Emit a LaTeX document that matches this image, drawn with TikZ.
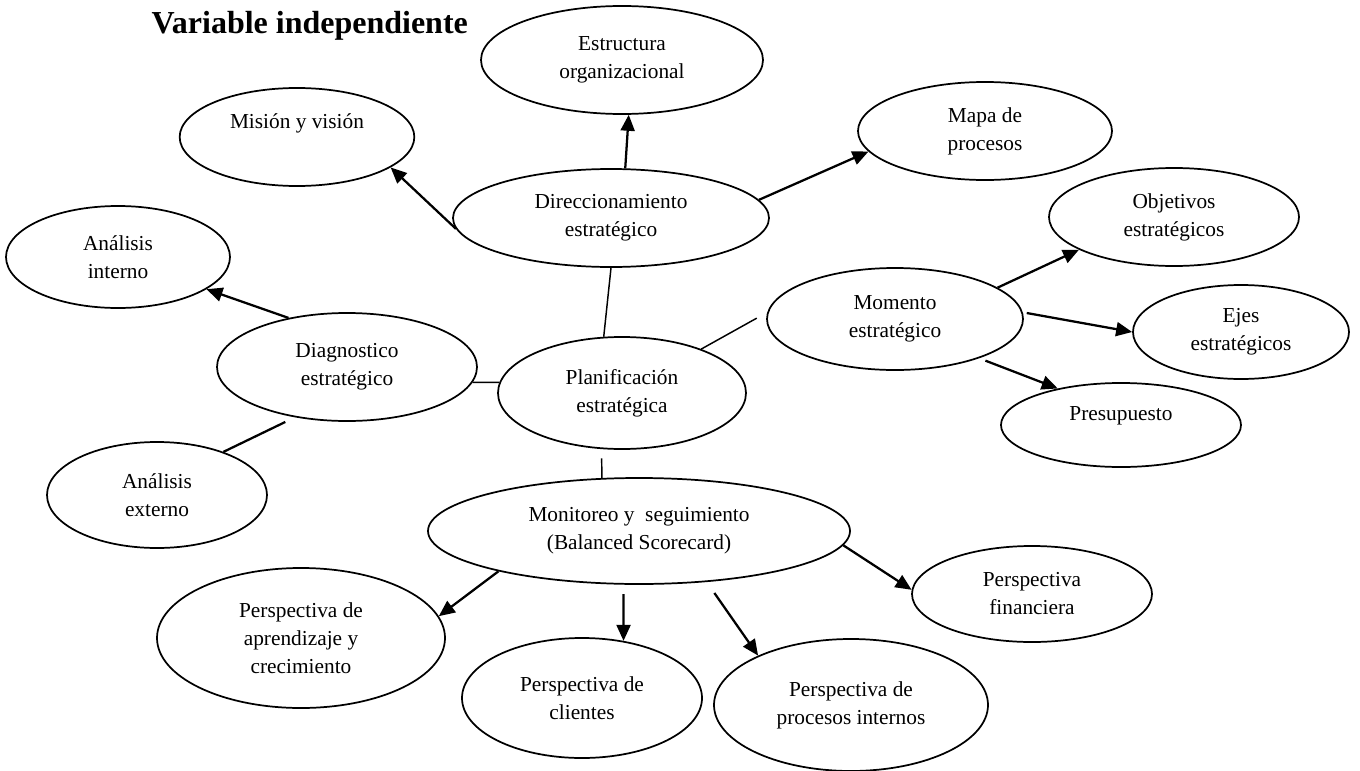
\documentclass[tikz,border=0pt]{standalone}
\usepackage{fontspec}
\setmainfont{Liberation Serif}
\usetikzlibrary{shapes.geometric,arrows.meta}

\begin{document}
\begin{tikzpicture}[x=0.75pt,y=-0.75pt,
  elip/.style={ellipse, draw, line width=1.3pt, fill=white, inner sep=0pt, align=center, font=\fontsize{16pt}{21pt}\selectfont},
  flecha/.style={line width=1.7pt, -{Triangle[length=12pt,width=10.5pt]}},
  linea/.style={line width=1.1pt}]
\useasboundingbox (0,0) rectangle (1360,771);
\node[anchor=base west, font=\bfseries\fontsize{24pt}{28pt}\selectfont] (titulo) at (147,33) {Variable independiente};
% nodo central
\node[elip, minimum width=186pt, minimum height=84pt] (plan) at (622,393) {Planificación\\estratégica};
% direccionamiento
\node[elip, minimum width=237pt, minimum height=73.5pt] (dir) at (611,218) {Direccionamiento\\estratégico};
\node[elip, minimum width=211.5pt, minimum height=81pt] (est) at (622,60) {Estructura\\organizacional};
\node[elip, minimum width=176pt, minimum height=73.5pt] (mis) at (297,137) {\raisebox{10.5pt}[\height][\depth]{Misión y visión}};
\node[elip, minimum width=190.5pt, minimum height=73.5pt] (map) at (985,131) {Mapa de\\procesos};
\draw[flecha](dir.184) -- (mis.342);
\draw[flecha](dir.74) -- (est.277);
\draw[flecha](dir.7) -- (map.190);
\draw[linea](dir.270) -- (plan.108);
% diagnostico
\node[elip, minimum width=195pt, minimum height=81pt] (diag) at (347,367) {Diagnostico\\estratégico};
\node[elip, minimum width=168pt, minimum height=76.5pt] (ain) at (118,257) {Análisis\\interno};
\node[elip, minimum width=165pt, minimum height=79.5pt] (aex) at (157,495) {Análisis\\externo};
\draw[flecha](diag.140) -- (ain.340);
\draw[linea, line width=1.7pt, shorten <=8pt](diag.224) -- (aex.33);
\draw[linea](diag.353) -- (plan.175);
% momento
\node[elip, minimum width=192pt, minimum height=76.5pt] (mom) at (895,319) {Momento\\estratégico};
\node[elip, minimum width=187.5pt, minimum height=73.5pt] (obj) at (1174,217) {Objetivos\\estratégicos};
\node[elip, minimum width=162pt, minimum height=70.5pt] (eje) at (1241,332) {Ejes\\estratégicos};
\node[elip, minimum width=180pt, minimum height=63pt] (pre) at (1121,425) {\raisebox{6.75pt}[\height][\depth]{Presupuesto}};
\draw[flecha](mom.17) -- (obj.199);
\draw[flecha, shorten <=3pt](mom.3) -- (eje.west);
\draw[flecha, shorten <=5pt](mom.335) -- (pre.150);
\draw[linea, shorten >=9pt](plan.29) -- (mom.177);
% monitoreo
\node[elip, minimum width=316.5pt, minimum height=79.5pt] (mon) at (639,531) {Monitoreo y \ seguimiento\\(Balanced Scorecard)};
\node[elip, minimum width=216pt, minimum height=105pt] (pap) at (301,638) {Perspectiva de\\aprendizaje y\\crecimiento};
\node[elip, minimum width=180pt, minimum height=90pt] (pcl) at (582,698) {Perspectiva de\\clientes};
\node[elip, minimum width=205.5pt, minimum height=99pt] (ppi) at (851,705) {Perspectiva de\\procesos internos};
\node[elip, minimum width=180pt, minimum height=72pt] (pfi) at (1032,594) {Perspectiva\\financiera};
\draw[linea, shorten <=7pt](plan.250) -- (mon.125);
\draw[flecha](mon.196) -- (pap.9);
\draw[flecha, shorten <=7pt](mon.254) -- (pcl.54);
\draw[flecha, shorten <=10pt](mon.323) -- (ppi.152);
\draw[flecha](mon.356) -- (pfi.178);
\end{tikzpicture}
\end{document}
